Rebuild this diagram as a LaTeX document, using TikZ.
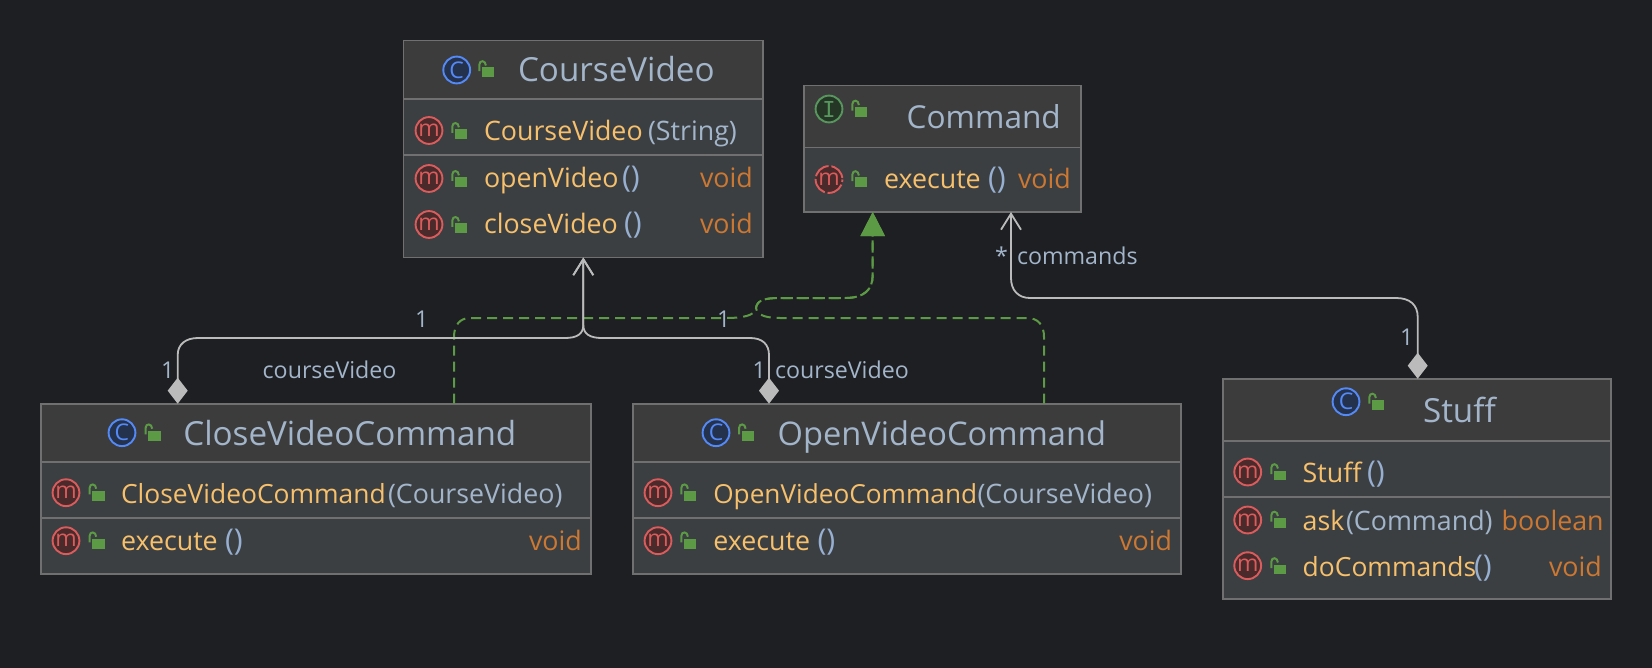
\documentclass[tikz,border=0pt]{standalone}
\usepackage{fontspec}
\setmainfont{Open Sans}
\newfontfamily\iconserif{DejaVu Sans Mono}
\usetikzlibrary{arrows.meta,fit,backgrounds}
\definecolor{bgc}{HTML}{1E1F22}
\definecolor{hdrc}{HTML}{3C3C3C}
\definecolor{bodyc}{HTML}{3B3F42}
\definecolor{edgec}{HTML}{707070}
\definecolor{titlec}{HTML}{A3B5CA}
\definecolor{methc}{HTML}{F7C06C}
\definecolor{voidc}{HTML}{CC7832}
\definecolor{greenc}{HTML}{5C9A45}
\definecolor{linkc}{HTML}{BBBBBB}
\definecolor{mring}{HTML}{DB5C5C}
\definecolor{mfill}{HTML}{4A2A2A}
\definecolor{cring}{HTML}{548AF7}
\definecolor{cfill}{HTML}{25324D}
\definecolor{iring}{HTML}{57965C}
\definecolor{ifill}{HTML}{253627}
\tikzset{
  bodybox/.style={fill=bodyc,inner sep=0pt,outer sep=0pt},
  hdrbox/.style={fill=hdrc,inner sep=0pt,outer sep=0pt},
  outline/.style={draw=edgec,line width=.8pt},
  septr/.style={draw=edgec,line width=.8pt},
  tbase/.style={anchor=base west,inner sep=0pt,outer sep=0pt},
  title/.style={tbase,text=titlec,font=\fontsize{16.6}{18}\selectfont},
  meth/.style={tbase,text=methc,font=\fontsize{13.4}{15}\selectfont},
  par/.style={tbase,text=titlec,font=\fontsize{13.4}{15}\selectfont},
  brk/.style={tbase,text=titlec!85!cring,font=\fontsize{15}{15}\selectfont},
  ret/.style={tbase,text=voidc,font=\fontsize{13.4}{15}\selectfont},
  lab/.style={tbase,text=titlec,font=\fontsize{11.6}{13}\selectfont},
  ico/.style={circle,minimum size=13.4pt,inner sep=0pt,line width=.95pt,font=\fontsize{11.5}{12}\selectfont},
  micon/.style={ico,draw=mring,fill=mfill,text=mring},
  cicon/.style={ico,draw=cring,fill=cfill,text=cring},
  iicon/.style={ico,draw=iring,fill=ifill,text=iring,font=\fontsize{11}{12}\iconserif},
  ameth/.style={micon,dash pattern=on 8.6pt off 1.4pt,dash phase=9.3pt},
  assoc/.style={draw=linkc,line width=.9pt,{Diamond[length=13pt,width=10pt,fill=linkc,sep=0pt]}-{Straight Barb[length=8pt,width=10pt]}},
  realize/.style={draw=greenc,line width=1pt,dash pattern=on 5pt off 3pt,-{Triangle[length=12pt,width=12pt,fill=greenc]}},
}
\newcommand{\umlclass}[7]{% name x1 y1 x2 y2 yhdr ysep(list)
  \node[bodybox,fit={(#2,#3)(#4,#5)}] (#1) {};
  \node[hdrbox,fit={(#2,#3)(#4,#6)}] (#1h) {};
  \draw[outline] (#1.north west) rectangle (#1.south east);
  \draw[septr] (#1.west |- 0,#6) -- (#1.east |- 0,#6);
  \foreach \s in {#7} {\draw[septr] (#1.west |- 0,\s) -- (#1.east |- 0,\s);}
}
\newcommand{\lockat}[2]{% body left, body top
  \fill[greenc] (#1,#2) rectangle ++(12.3,9.8);
  \draw[greenc,line width=1pt] (#1-2.6,#2+3.6) -- (#1-2.6,#2-3) .. controls (#1-2.6,#2-7.5) and (#1+3.6,#2-7.5) .. (#1+3.9,#2-2);
}
\begin{document}
\begin{tikzpicture}[x=0.5pt,y=-0.5pt]
\useasboundingbox[fill=bgc] (0,0) rectangle (1652,668);

% ---- class boxes
\umlclass{cv}{403.5}{40.7}{762.7}{257.5}{99}{155}
\umlclass{cmd}{803.7}{85.7}{1080.7}{212}{147.7}{}
\umlclass{cl}{40.7}{403.7}{591}{574}{461.7}{517.7}
\umlclass{op}{632.7}{403.7}{1181}{574}{461.7}{517.7}
\umlclass{st}{1223}{378.7}{1611}{599}{441}{496.7}

% ---- CourseVideo
\node[cicon] (cvI) at (456.7,70) {C}; \lockat{482}{67.5}
\node[title] (cvT) at (518,82) {CourseVideo};
\node[micon] (cvM1) at (429,130.5) {m}; \lockat{455}{129.3}
\node[meth] (cvN1) at (484,140.7) {CourseVideo};
\node[par] (cvP1) at (648,140.7) {(String)};
\node[micon] (cvM2) at (429,178.5) {m}; \lockat{455}{177.3}
\node[meth] (cvN2) at (484,188) {openVideo};
\node[brk] (cvP2) at (622,188) {()};
\node[ret] (cvR2) at (700,188) {void};
\node[micon] (cvM3) at (429,224.5) {m}; \lockat{455}{223.3}
\node[meth] (cvN3) at (484,234) {closeVideo};
\node[brk] (cvP3) at (624,234) {()};
\node[ret] (cvR3) at (700,234) {void};

% ---- Command
\node[iicon] (cmdI) at (829,109) {I}; \lockat{855}{107}
\node[title,font=\fontsize{15.8}{18}\selectfont] (cmdT) at (906.7,128.5) {Command};
\node[ameth] (cmdM) at (829,179.5) {m}; \lockat{855}{177.5}
\node[meth] (cmdN) at (884,188.7) {execute};
\node[brk] (cmdP) at (988,188.7) {()};
\node[ret] (cmdR) at (1018,188.7) {void};

% ---- CloseVideoCommand
\node[cicon] (clI) at (122,432.7) {C}; \lockat{148.3}{430.7}
\node[title] (clT) at (183.3,445.5) {CloseVideoCommand};
\node[micon] (clM1) at (66,492.7) {m}; \lockat{92.3}{490.7}
\node[meth,font=\fontsize{13.2}{15}\selectfont] (clN1) at (121,503) {CloseVideoCommand};
\node[par] (clP1) at (388,503) {(CourseVideo)};
\node[micon] (clM2) at (66,540.7) {m}; \lockat{92.3}{538.7}
\node[meth] (clN2) at (121,550.5) {execute};
\node[brk] (clP2) at (225,550.5) {()};
\node[ret] (clR2) at (529,550.5) {void};

% ---- OpenVideoCommand
\node[cicon] (opI) at (716,432.7) {C}; \lockat{741.7}{430.7}
\node[title,font=\fontsize{16.3}{18}\selectfont] (opT) at (777.7,445.5) {OpenVideoCommand};
\node[micon] (opM1) at (658,492.7) {m}; \lockat{684}{490.7}
\node[meth,font=\fontsize{13.1}{15}\selectfont] (opN1) at (713.3,503) {OpenVideoCommand};
\node[par] (opP1) at (977.5,503) {(CourseVideo)};
\node[micon] (opM2) at (658,540.7) {m}; \lockat{684}{538.7}
\node[meth] (opN2) at (713.3,550.5) {execute};
\node[brk] (opP2) at (817.5,550.5) {()};
\node[ret] (opR2) at (1119.3,550.5) {void};

% ---- Stuff
\node[cicon] (stI) at (1346,401.7) {C}; \lockat{1372}{400}
\node[title] (stT) at (1423,422) {Stuff};
\node[micon] (stM1) at (1247.7,472) {m}; \lockat{1274}{470.5}
\node[meth] (stN1) at (1302.7,482) {Stuff};
\node[brk] (stP1) at (1367,482) {()};
\node[micon] (stM2) at (1247.7,520) {m}; \lockat{1274}{518}
\node[meth] (stN2) at (1302.7,530) {ask};
\node[par] (stP2) at (1346,530) {(Command)};
\node[ret] (stR2) at (1501.7,530) {boolean};
\node[micon] (stM3) at (1247.7,565.7) {m}; \lockat{1274}{564.5}
\node[meth,font=\fontsize{13.2}{15}\selectfont] (stN3) at (1302.7,576) {doCommands};
\node[brk] (stP3) at (1474,576) {()};
\node[ret] (stR3) at (1549,576) {void};

% ---- connector ends
\coordinate (cvIn) at (583.3,257.5);
\coordinate (cmdInA) at (872.7,212);
\coordinate (cmdInB) at (1011,212);
\coordinate (clOutA) at (177.7,403.7);
\coordinate (clOutB) at (454,403.7);
\coordinate (opOutA) at (769,403.7);
\coordinate (opOutB) at (1044,403.7);
\coordinate (stOut) at (1417.7,378.7);

% ---- realisations (dashed, green)
\draw[realize] (clOutB) -- (454,337) .. controls (454,325) and (460,318) .. (470,318)
  -- (725,318) .. controls (742,318) and (755,316) .. (756,308)
  .. controls (757,300) and (765,298) .. (780,298)
  -- (845,298) .. controls (864,298) and (872.7,290) .. (872.7,275) -- (cmdInA);
\draw[realize] (opOutB) -- (1044,337) .. controls (1044,325) and (1038,318) .. (1027,318)
  -- (780,318) .. controls (768,318) and (757,316) .. (756,308)
  .. controls (757,300) and (765,298) .. (780,298)
  -- (845,298) .. controls (864,298) and (872.7,290) .. (872.7,275) -- (cmdInA);

% ---- compositions (grey)
\draw[assoc] (clOutA) -- (177.7,355) .. controls (177.7,344) and (186,338) .. (198,338)
  -- (565,338) .. controls (577,338) and (583.3,334) .. (583.3,325) -- (cvIn);
\draw[assoc] (opOutA) -- (769,355) .. controls (769,344) and (762,338) .. (750,338)
  -- (601.7,338) .. controls (590,338) and (583.3,334) .. (583.3,325) -- (cvIn);
\draw[assoc] (stOut) -- (1417.7,317) .. controls (1417.7,305) and (1410,298) .. (1396,298)
  -- (1030,298) .. controls (1018,298) and (1011,290) .. (1011,278) -- (cmdInB);

% ---- connector labels
\node[lab] (l1) at (415,327) {1};
\node[lab] (l2) at (161,378) {1};
\node[lab] (l3) at (262.7,378) {courseVideo};
\node[lab] (l4) at (717,327) {1};
\node[lab] (l5) at (752.7,378) {1};
\node[lab] (l6) at (775,378) {courseVideo};
\node[lab] (l7) at (995,264) {*};
\node[lab] (l8) at (1017,264) {commands};
\node[lab] (l9) at (1400,345.7) {1};
\end{tikzpicture}
\end{document}
